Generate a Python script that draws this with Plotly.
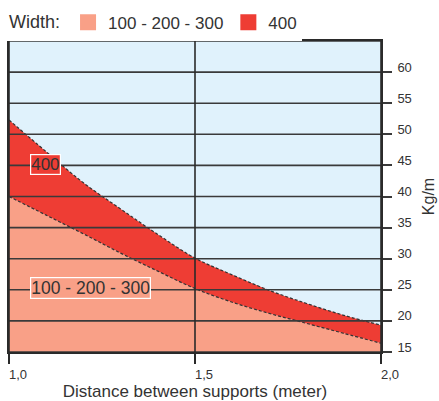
import plotly.graph_objects as go

# Data
distance = [1.0, 1.1, 1.2, 1.3, 1.4, 1.5, 1.6, 1.7, 1.8, 1.9, 2.0]
load_100_300 = [40.0, 37.0, 34.0, 30.9, 28.0, 25.2, 23.0, 21.2, 19.6, 18.0, 16.4]
load_400 = [52.3, 47.2, 42.2, 38.0, 33.9, 30.1, 27.4, 24.9, 22.8, 20.9, 19.3]

x_ticks = [1.0, 1.5, 2.0]
x_tick_labels = ["1,0", "1,5", "2,0"]
y_ticks = [15, 20, 25, 30, 35, 40, 45, 50, 55, 60]
y_tick_labels = [str(v) for v in y_ticks]

series_names = ["100 - 200 - 300", "400"]

SALMON = "#F9A087"
RED = "#EE3D34"
BG = "#E0F2FC"
FONT = "Liberation Sans, Arial, sans-serif"
TXT = "#333333"

fig = go.Figure()

# salmon area (100-200-300)
fig.add_trace(go.Scatter(
    x=distance, y=load_100_300, mode="lines", fill="tozeroy",
    fillcolor=SALMON, line=dict(color="#333333", width=1.2, dash="3px,2px", shape="spline"),
    showlegend=False, hoverinfo="skip"))
# red band (400)
fig.add_trace(go.Scatter(
    x=distance, y=load_400, mode="lines", fill="tonexty",
    fillcolor=RED, line=dict(color="#333333", width=1.2, dash="3px,2px", shape="spline"),
    showlegend=False, hoverinfo="skip"))

# legend entries
for name, col in zip(series_names, [SALMON, RED]):
    fig.add_trace(go.Scatter(
        x=[None], y=[None], mode="markers", name=name,
        marker=dict(symbol="square", size=16, color=col, line=dict(width=0))))

# grid lines drawn above the fills
shapes = []
for v in y_ticks + [65]:
    shapes.append(dict(type="line", xref="paper", x0=0, x1=1, yref="y", y0=v, y1=v,
                       line=dict(color="#3a3a3a", width=1.6), layer="above"))
for v in x_ticks:
    shapes.append(dict(type="line", xref="x", x0=v, x1=v, yref="paper", y0=0, y1=1,
                       line=dict(color="#2a2a2a", width=1.6), layer="above"))

annotations = [
    dict(x=1.098, y=45.2, xref="x", yref="y", text=series_names[1], showarrow=False,
         font=dict(family=FONT, size=17, color=TXT), bgcolor=RED,
         bordercolor="white", borderwidth=1.2, borderpad=0),
    dict(x=1.218, y=25.3, xref="x", yref="y", text=series_names[0], showarrow=False,
         font=dict(family=FONT, size=17.5, color=TXT), bgcolor=SALMON,
         bordercolor="white", borderwidth=1.2, borderpad=0),
]

fig.update_layout(
    width=439, height=401,
    margin=dict(l=9, r=58, t=41, b=49),
    paper_bgcolor="white", plot_bgcolor=BG,
    font=dict(family=FONT, color=TXT),
    shapes=shapes, annotations=annotations,
    legend=dict(orientation="h", x=0.016, y=0.988, xref="container", yref="container",
                xanchor="left", yanchor="top", traceorder="normal",
                title=dict(text="Width:", font=dict(size=18, family=FONT, color=TXT)),
                font=dict(size=17, family=FONT, color=TXT),
                itemwidth=30, tracegroupgap=0),
    xaxis=dict(range=[1.0, 2.0], tickvals=x_ticks, ticktext=x_tick_labels,
               ticks="outside", ticklen=10, tickwidth=1.6, tickcolor="#2a2a2a",
               showgrid=False, zeroline=False, showline=True, linecolor="#2a2a2a",
               linewidth=1.6, mirror=True, automargin=False,
               ticklabelshift=9, ticklabelstandoff=0,
               tickfont=dict(size=13, family=FONT, color=TXT),
               title=dict(text="Distance between supports (meter)",
                          font=dict(size=17, family=FONT, color=TXT), standoff=0)),
    yaxis=dict(range=[15, 65], side="right", tickvals=y_ticks, ticktext=y_tick_labels,
               ticks="outside", ticklen=9, tickwidth=1.6, tickcolor="#3a3a3a",
               showgrid=False, zeroline=False, showline=True, linecolor="#2a2a2a",
               linewidth=1.6, mirror=True, automargin=False,
               ticklabelshift=-5, ticklabelstandoff=3,
               tickfont=dict(size=13, family=FONT, color=TXT),
               title=dict(text="Kg/m", font=dict(size=16, family=FONT, color=TXT), standoff=12)),
)

# remove the default page margin so the figure sits at the window's top-left corner
fig.write_html("out.html", config={"displayModeBar": False},
               post_script="document.body.style.margin='0px';")
